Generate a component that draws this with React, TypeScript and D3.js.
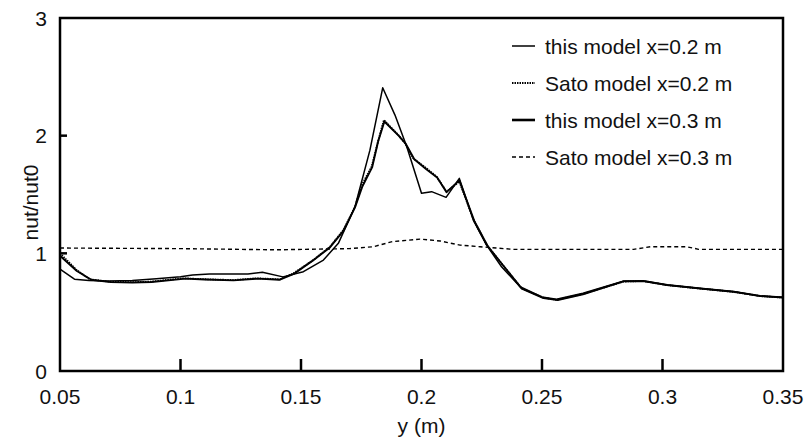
import React from "react";
import * as d3 from "d3";

const xA = [0.05,0.056,0.062,0.07,0.08,0.09,0.1,0.105,0.112,0.12,0.128,0.134,0.1425,0.151,0.1593,0.1655,0.1724,0.1786,0.1839,0.189,0.1939,0.2,0.2042,0.2102,0.2157,0.2215,0.227,0.2332,0.2409,0.25,0.256,0.267,0.284,0.292,0.302,0.316,0.33,0.34,0.35];
const yA = [0.865,0.78,0.77,0.765,0.77,0.785,0.8,0.815,0.825,0.825,0.825,0.84,0.8,0.844,0.943,1.085,1.396,1.877,2.407,2.175,1.905,1.51,1.524,1.476,1.637,1.283,1.07,0.886,0.716,0.63,0.61,0.66,0.765,0.765,0.731,0.702,0.674,0.637,0.626];

const xB = [0.05,0.0569,0.0624,0.0707,0.08,0.0873,0.095,0.1012,0.11,0.1219,0.1316,0.1413,0.1468,0.1551,0.162,0.1676,0.1724,0.1752,0.1793,0.1821,0.1844,0.1904,0.1932,0.1966,0.2021,0.2063,0.2104,0.2157,0.2215,0.227,0.2326,0.2416,0.2506,0.256,0.2671,0.2838,0.292,0.3017,0.3158,0.3296,0.3405,0.35];
const yB = [1.0,0.858,0.779,0.759,0.755,0.759,0.775,0.788,0.78,0.773,0.788,0.779,0.83,0.943,1.056,1.198,1.396,1.58,1.736,1.963,2.133,2.005,1.935,1.807,1.722,1.651,1.524,1.61,1.29,1.075,0.929,0.702,0.623,0.605,0.655,0.76,0.765,0.73,0.7,0.672,0.637,0.624];

const xC = [0.05,0.057,0.063,0.071,0.08,0.088,0.096,0.102,0.11,0.122,0.132,0.141,0.147,0.155,0.162,0.1676,0.1724,0.1755,0.1795,0.182,0.1846,0.1905,0.1935,0.197,0.202,0.2065,0.2104,0.2157,0.222,0.2275,0.233,0.2416,0.2506,0.2565,0.267,0.2838,0.292,0.302,0.3158,0.3296,0.3405,0.35];
const yC = [0.98,0.85,0.775,0.755,0.752,0.756,0.772,0.785,0.778,0.77,0.785,0.775,0.825,0.94,1.05,1.19,1.39,1.57,1.73,1.95,2.12,2.0,1.93,1.8,1.715,1.645,1.52,1.62,1.27,1.06,0.92,0.7,0.62,0.602,0.652,0.762,0.765,0.731,0.701,0.673,0.638,0.625];

const xD = [0.05,0.1,0.14,0.17,0.18,0.188,0.1994,0.2077,0.216,0.2243,0.238,0.26,0.288,0.295,0.31,0.315,0.35];
const yD = [1.045,1.04,1.03,1.04,1.056,1.1,1.121,1.105,1.07,1.056,1.034,1.034,1.034,1.056,1.056,1.034,1.034];

const xTicks = [0.05, 0.1, 0.15, 0.2, 0.25, 0.3, 0.35];
const xTickLabels = ["0.05", "0.1", "0.15", "0.2", "0.25", "0.3", "0.35"];
const yTicks = [0, 1, 2, 3];
const yTickLabels = ["0", "1", "2", "3"];
const seriesNames = ["this model x=0.2 m", "Sato model x=0.2 m", "this model x=0.3 m", "Sato model x=0.3 m"];

const W = 806, H = 442;
const FONT = "'Liberation Sans', Arial, Helvetica, sans-serif";

export default function App() {
  const x = d3.scaleLinear().domain([0.05, 0.35]).range([60, 783]);
  const y = d3.scaleLinear().domain([0, 3]).range([371, 18]);
  const line = d3.line<[number, number]>().x(d => x(d[0])).y(d => y(d[1]));
  const mk = (xs: number[], ys: number[]) => xs.map((v, i) => [v, ys[i]] as [number, number]);

  const styles = [
    { w: 1.5, dash: "none" },
    { w: 1.8, dash: "1.5,1" },
    { w: 1.9, dash: "none" },
    { w: 1.4, dash: "4,3" },
  ];
  const legendW = [1.5, 2, 2.6, 1.4];
  const data = [mk(xA, yA), mk(xC, yC), mk(xB, yB), mk(xD, yD)];
  const order = [0, 2, 1, 3];

  return (
    <svg width={W} height={H} style={{ display: "block", position: "absolute", left: 0, top: 0 }}>
      <rect x={0} y={0} width={W} height={H} fill="#fff" />
      {data.map((d, k) => {
        const i = order[k];
        return (
          <path key={k} d={line(d) || ""} fill="none" stroke="#000" strokeWidth={styles[i].w}
            strokeDasharray={styles[i].dash} strokeLinejoin="round" />
        );
      })}
      <rect x={x(0.05)} y={y(3)} width={x(0.35) - x(0.05)} height={y(0) - y(3)} fill="none" stroke="#000" strokeWidth={2.5} />
      {xTicks.map((t, i) => (
        <g key={"x" + i}>
          {i > 0 && i < xTicks.length - 1 && (
            <line x1={x(t)} x2={x(t)} y1={y(0)} y2={y(0) - 12} stroke="#000" strokeWidth={2.5} />
          )}
          <text x={x(t)} y={404} textAnchor="middle" fontFamily={FONT} fontSize={21} fill="#111">{xTickLabels[i]}</text>
        </g>
      ))}
      {yTicks.map((t, i) => (
        <g key={"y" + i}>
          {i > 0 && i < yTicks.length - 1 && (
            <line x1={x(0.05)} x2={x(0.05) + 7} y1={y(t)} y2={y(t)} stroke="#000" strokeWidth={2.5} />
          )}
          <text x={47} y={y(t)} textAnchor="end" dominantBaseline="central" fontFamily={FONT} fontSize={21} fill="#111">{yTickLabels[i]}</text>
        </g>
      ))}
      <text x={(x(0.05) + x(0.35)) / 2} y={433} textAnchor="middle" fontFamily={FONT} fontSize={21} fill="#111">y (m)</text>
      <text transform={`translate(38, ${(y(0) + y(3)) / 2 + 8}) rotate(-90)`} textAnchor="middle" fontFamily={FONT} fontSize={21} fill="#111">nut/nut0</text>
      {seriesNames.map((n, i) => {
        const yy = 46 + i * 37;
        return (
          <g key={"l" + i}>
            <line x1={512} x2={535} y1={yy} y2={yy} stroke="#000" strokeWidth={legendW[i]} strokeDasharray={styles[i].dash} />
            <text x={545} y={yy} dominantBaseline="central" fontFamily={FONT} fontSize={21} fill="#111">{n}</text>
          </g>
        );
      })}
    </svg>
  );
}
